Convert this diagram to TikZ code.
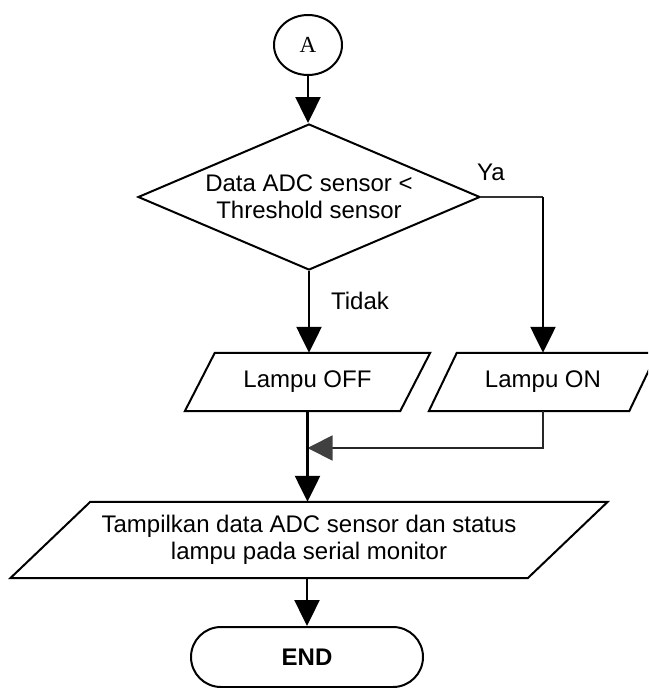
\documentclass[tikz,border=0pt]{standalone}
\usepackage{fontspec}
\setmainfont{Liberation Sans}
\newfontfamily\serifA{Liberation Serif}
\usetikzlibrary{shapes.geometric,shapes.misc,arrows.meta}
\begin{document}
\begin{tikzpicture}[x=1pt,y=-1pt,
  every node/.style={font=\fontsize{24}{27}\selectfont, inner sep=0pt},
  shapeline/.style={draw=black, line width=2pt},
  box/.style={rectangle, minimum height=58pt},
  conn/.style={line width=2.4pt, -{Triangle[width=25pt,length=26pt]}},
  connthin/.style={line width=1.8pt, draw=black!85, -{Triangle[width=25pt,length=25pt,color=black!75]}},
  lbl/.style={font=\fontsize{24}{27}\selectfont}
]
\clip (0,0) rectangle (648,688);
\fill[white] (0,0) rectangle (648,688);

% Start connector
\node[ellipse, shapeline, minimum width=68pt, minimum height=60pt, font=\serifA\fontsize{23}{26}\selectfont] (A) at (308,45) {A};

% Decision
\node[diamond, shapeline, shape aspect=2.34, minimum width=342pt, minimum height=146pt, align=center] (D) at (309,197) {Data ADC sensor <\\Threshold sensor};

% Lampu OFF
\node[box, minimum width=215pt] (LOFF) at (307.5,382) {Lampu OFF};
\draw[shapeline] ([xshift=15pt]LOFF.north west) -- ([xshift=15pt]LOFF.north east)
  -- ([xshift=-15pt]LOFF.south east) -- ([xshift=-15pt]LOFF.south west) -- cycle;

% Lampu ON
\node[box, minimum width=200pt] (LON) at (543,382) {Lampu ON};
\draw[shapeline] ([xshift=14pt]LON.north west) -- ([xshift=14pt]LON.north east)
  -- ([xshift=-14pt]LON.south east) -- ([xshift=-14pt]LON.south west) -- cycle;

% Output
\node[rectangle, minimum width=517pt, minimum height=76pt, align=center] (T) at (309,540)
  {Tampilkan data ADC sensor dan status\\lampu pada serial monitor};
\draw[shapeline] ([xshift=40pt]T.north west) -- ([xshift=40pt]T.north east)
  -- ([xshift=-40pt]T.south east) -- ([xshift=-40pt]T.south west) -- cycle;

% End
\node[rounded rectangle, shapeline, minimum width=232pt, minimum height=60pt, font=\bfseries\fontsize{24}{27}\selectfont] (E) at (307,657) {END};

% Labels
\node[lbl] (ya) at (491,172) {Ya};
\node[lbl] (tidak) at (360,301) {Tidak};

% Connectors
\coordinate (yc) at (LON.north |- D.east);
\coordinate (mj) at (LOFF.south |- 0,448);
\draw[conn] (A.south) -- (A.south |- D.north);
\draw[conn] (D.south) -- (D.south |- LOFF.north);
\draw[line width=1.8pt, draw=black!80] (D.east) -- (yc);
\draw[conn] (yc) -- (LON.north);
\draw[connthin] (LON.south) |- (mj);
\draw[conn] (LOFF.south) -- (LOFF.south |- T.north);
\draw[conn] (T.south -| E.north) -- (E.north);
\end{tikzpicture}
\end{document}
